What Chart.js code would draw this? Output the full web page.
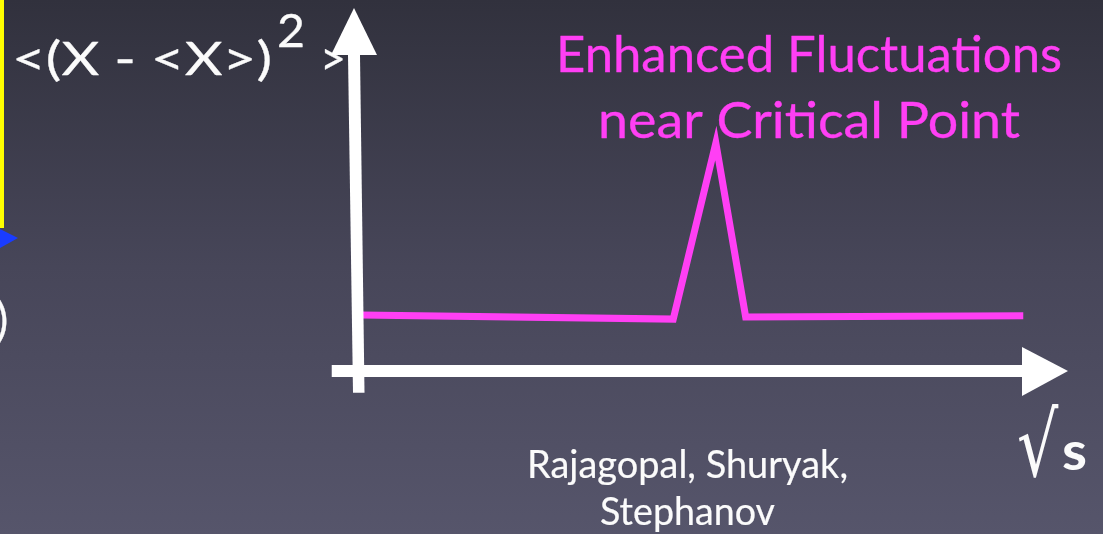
<!DOCTYPE html>
<html><head><meta charset="utf-8">
<script src="https://cdn.jsdelivr.net/npm/chart.js@4"></script>
<style>html,body{margin:0;padding:0;background:#44435a;overflow:hidden}canvas{display:block}</style>
</head><body><canvas id="c" width="1103" height="534"></canvas>
<script>
// data (arbitrary units): collision energy sqrt(s) vs fluctuation <(X-<X>)^2>
const sqrtS  = [0.04, 4.44, 5.04, 5.46, 9.37];
const fluct  = [1.54, 1.43, 6.28, 1.49, 1.52];
const axisRangeX = [-0.37, 10];
const axisRangeY = [-0.60, 10];
const yAxisLabel = '<(X - <X>)';
const yAxisSup = '2';
const yAxisClose = '>';
const noteLines = ['Enhanced Fluctuations', 'near Critical Point'];
const refLines = ['Rajagopal, Shuryak,', 'Stephanov'];
const xAxisRadical = '\u221A';
const xAxisVar = 's';

const FAM = 'Lato, "Open Sans", sans-serif';
const MAG = '#ff3ff4';
const WHITE = '#fbfbfb';

// draw text at a given font size, squeezed horizontally to a given width
function txtW(ctx, text, x, y, size, width, color, align, weight, fam, thick) {
  ctx.save();
  ctx.font = (weight || '') + ' ' + size + 'px ' + (fam || FAM);
  ctx.fillStyle = color; ctx.strokeStyle = color;
  ctx.textBaseline = 'alphabetic'; ctx.textAlign = align || 'left';
  const m = ctx.measureText(text).width;
  const sx = width ? width / m : 1;
  ctx.translate(x, y); ctx.scale(sx, 1);
  ctx.fillText(text, 0, 0);
  if (thick) { ctx.lineWidth = thick; ctx.lineJoin = 'round'; ctx.strokeText(text, 0, 0); }
  ctx.restore();
}

const deco = {
  id: 'deco',
  beforeDraw(chart) {
    const ctx = chart.ctx, W = chart.width, H = chart.height;
    const g = ctx.createLinearGradient(0, 0, 0, H);
    g.addColorStop(0, '#31313d');
    g.addColorStop(0.5, '#474659');
    g.addColorStop(1, '#56556b');
    ctx.save(); ctx.fillStyle = g; ctx.fillRect(0, 0, W, H);
    // remnants at the left edge
    ctx.fillStyle = '#ffff00'; ctx.fillRect(0, 0, 4, 228);
    ctx.fillStyle = '#1a3cff';
    ctx.beginPath(); ctx.moveTo(0, 229); ctx.lineTo(18, 238); ctx.lineTo(0, 248); ctx.closePath(); ctx.fill();
    txtW(ctx, ')', -4, 336, 46, 0, WHITE, 'left', '', '', 0.3);
    ctx.restore();
  },
  afterDatasetsDraw(chart) {
    const ctx = chart.ctx, xs = chart.scales.x, ys = chart.scales.y;
    ctx.save();
    // y-axis label
    txtW(ctx, yAxisLabel, 12, 75, 47, 260, WHITE, 'left', '', '', 0.3);
    txtW(ctx, yAxisSup, 277, 47, 46, 28, WHITE, 'left', '', '', 0.3);
    txtW(ctx, yAxisClose, 320, 75, 47, 26, WHITE, 'left', '', '', 0.3);
    // axes
    const ox = xs.getPixelForValue(0), oy = ys.getPixelForValue(0);
    const x0 = xs.getPixelForValue(axisRangeX[0]), x1 = xs.getPixelForValue(axisRangeX[1]);
    const y0 = ys.getPixelForValue(axisRangeY[0]), y1 = ys.getPixelForValue(axisRangeY[1]);
    ctx.fillStyle = '#ffffff';
    // horizontal
    ctx.fillRect(x0, oy - 6, (x1 - 46) - x0 + 1, 12);
    ctx.beginPath(); ctx.moveTo(x1 - 46, oy - 24); ctx.lineTo(x1, oy); ctx.lineTo(x1 - 46, oy + 25); ctx.closePath(); ctx.fill();
    // vertical (slightly leaning)
    const tx = ox - 4;
    ctx.beginPath();
    ctx.moveTo(ox - 5, y0); ctx.lineTo(ox + 6.5, y0);
    ctx.lineTo(tx + 6, y1 + 47); ctx.lineTo(tx - 6, y1 + 47); ctx.closePath(); ctx.fill();
    ctx.beginPath(); ctx.moveTo(tx - 23, y1 + 47); ctx.lineTo(tx, y1); ctx.lineTo(tx + 23, y1 + 47); ctx.closePath(); ctx.fill();
    // annotation
    txtW(ctx, noteLines[0], 556, 72, 50, 506, MAG, 'left', '', '', 0.35);
    txtW(ctx, noteLines[1], 598, 138, 50, 422, MAG, 'left', '', '', 0.35);
    txtW(ctx, refLines[0], 527, 478, 39, 321, WHITE, 'left', '', '', 0.2);
    txtW(ctx, refLines[1], 600, 525, 39, 175, WHITE, 'left', '', '', 0.2);
    // sqrt(s)
    ctx.save();
    ctx.font = '72px "DejaVu Sans"'; ctx.fillStyle = WHITE; ctx.textAlign = 'left'; ctx.textBaseline = 'alphabetic';
    ctx.translate(1017, 476); ctx.scale(0.9, 1.23);
    ctx.fillText(xAxisRadical, 0, 0);
    ctx.restore();
    txtW(ctx, xAxisVar, 1062, 470, 54, 25, WHITE, 'left', 'bold');
    ctx.restore();
  }
};

new Chart(document.getElementById('c'), {
  type: 'line',
  data: { datasets: [{
    data: sqrtS.map((v, i) => ({ x: v, y: fluct[i] })),
    borderColor: MAG, borderWidth: 7, pointRadius: 0, tension: 0,
    borderJoinStyle: 'miter', fill: false
  }] },
  options: {
    responsive: false, animation: false,
    layout: { padding: { left: 358, right: 35, top: 8, bottom: 163 } },
    scales: {
      x: { type: 'linear', min: 0, max: 10, display: false },
      y: { type: 'linear', min: 0, max: 10, display: false }
    },
    plugins: { legend: { display: false }, tooltip: { enabled: false } }
  },
  plugins: [deco]
});
</script>
</body></html>
